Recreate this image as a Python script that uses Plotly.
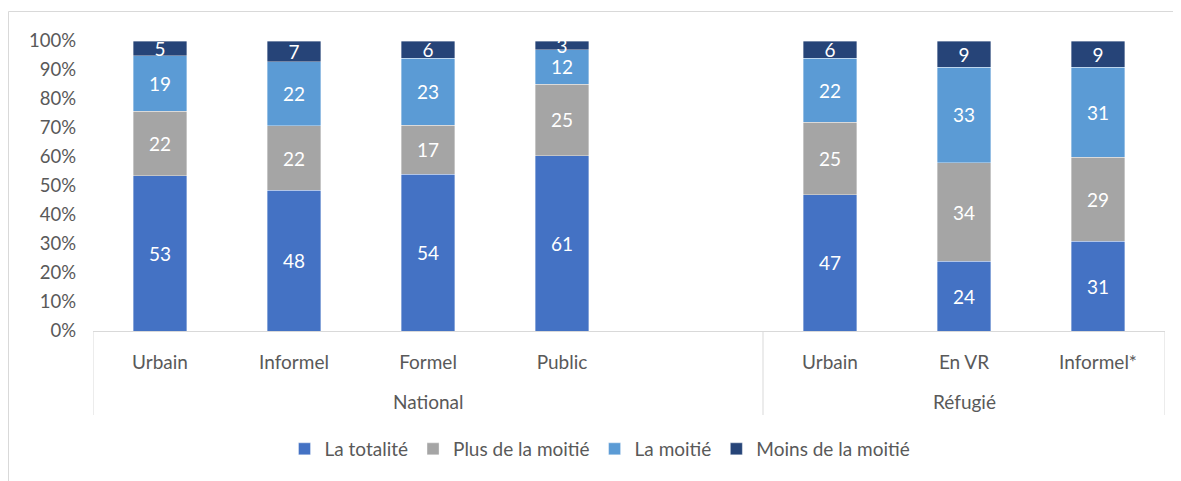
import plotly.graph_objects as go

groups = ["National"] * 5 + ["Réfugié"] * 3
categories = ["Urbain", "Informel", "Formel", "Public", "", "Urbain", "En VR", "Informel*"]
group_names = ["National", "Réfugié"]

series_names = ["La totalité", "Plus de la moitié", "La moitié", "Moins de la moitié"]
totalite = [53, 48, 54, 61, None, 47, 24, 31]
plus_moitie = [22, 22, 17, 25, None, 25, 34, 29]
moitie = [19, 22, 23, 12, None, 22, 33, 31]
moins_moitie = [5, 7, 6, 3, None, 6, 9, 9]
colors = ["#4472C4", "#A5A5A5", "#5B9BD5", "#264478"]

y_ticks = [0, 10, 20, 30, 40, 50, 60, 70, 80, 90, 100]

keys = [f"{g}|{c}|{i}" for i, (g, c) in enumerate(zip(groups, categories))]

FONT = "Lato"
OFF = 8  # page body margin
W, H = 1181 - OFF, 481 - OFF
L, T = 93 - OFF, 41 - OFF
R = W - (1165 - OFF)
B = H - (331 - OFF)
PW, PH = W - L - R, H - T - B


def py(window_y):
    """window pixel y -> paper fraction"""
    return (331 - window_y) / PH


def px(window_x):
    return (window_x - 93) / PW


fig = go.Figure()
for name, vals, col in zip(series_names, [totalite, plus_moitie, moitie, moins_moitie], colors):
    fig.add_trace(go.Bar(
        name=name,
        x=keys,
        y=vals,
        text=[("" if v is None else str(v)) for v in vals],
        texttemplate="%{text}",
        textposition="inside",
        insidetextanchor="middle",
        textangle=0,
        constraintext="none",
        textfont=dict(color="white", size=19, family=FONT),
        marker=dict(color=col, line=dict(color="rgba(255,255,255,0.6)", width=0.6)),
        hoverinfo="skip",
    ))

annotations = []
shapes = []
group_idx = {}
for i, g in enumerate(groups):
    group_idx.setdefault(g, []).append(i)
for g in group_names:
    idx = group_idx[g]
    annotations.append(dict(x=(idx[0] + idx[-1]) / 2, xref="x", y=py(401), yref="paper",
                            text=g, showarrow=False, font=dict(size=19, color="#595959", family=FONT),
                            yanchor="middle"))
bounds = [-0.5] + [group_idx[g][-1] + 0.5 for g in group_names]
for b in bounds:
    shapes.append(dict(type="line", xref="x", yref="paper", x0=b, x1=b, y0=0, y1=py(415),
                       line=dict(color="#d9d9d9", width=1)))
shapes.append(dict(type="rect", xref="paper", yref="paper",
                   x0=px(8.5), x1=px(1200),
                   y0=py(500), y1=py(11.5),
                   line=dict(color="#d9d9d9", width=1), fillcolor="rgba(0,0,0,0)", layer="below"))

fig.update_layout(
    width=W, height=H,
    barmode="stack", barnorm="percent", bargap=0.6,
    plot_bgcolor="white", paper_bgcolor="white",
    margin=dict(l=L, r=R, t=T, b=B, autoexpand=False),
    font=dict(family=FONT, color="#595959", size=19),
    legend=dict(orientation="h", x=px(600), xanchor="center", y=py(430), yanchor="top",
                font=dict(size=19, color="#595959"), traceorder="normal"),
    xaxis=dict(type="category", tickvals=keys, ticktext=categories, automargin=False,
               showline=True, linecolor="#d9d9d9", linewidth=1, ticks="",
               ticklabelstandoff=14, range=[-0.5, len(keys) - 0.5],
               tickfont=dict(size=19, color="#595959")),
    yaxis=dict(range=[0, 100], tickvals=y_ticks, ticktext=[f"{t}%" for t in y_ticks],
               showgrid=False, zeroline=False, showline=False, automargin=False,
               ticks="", ticklabelstandoff=16,
               tickfont=dict(size=18.5, color="#595959")),
    annotations=annotations,
    shapes=shapes,
)

fig.write_html("out.html")
